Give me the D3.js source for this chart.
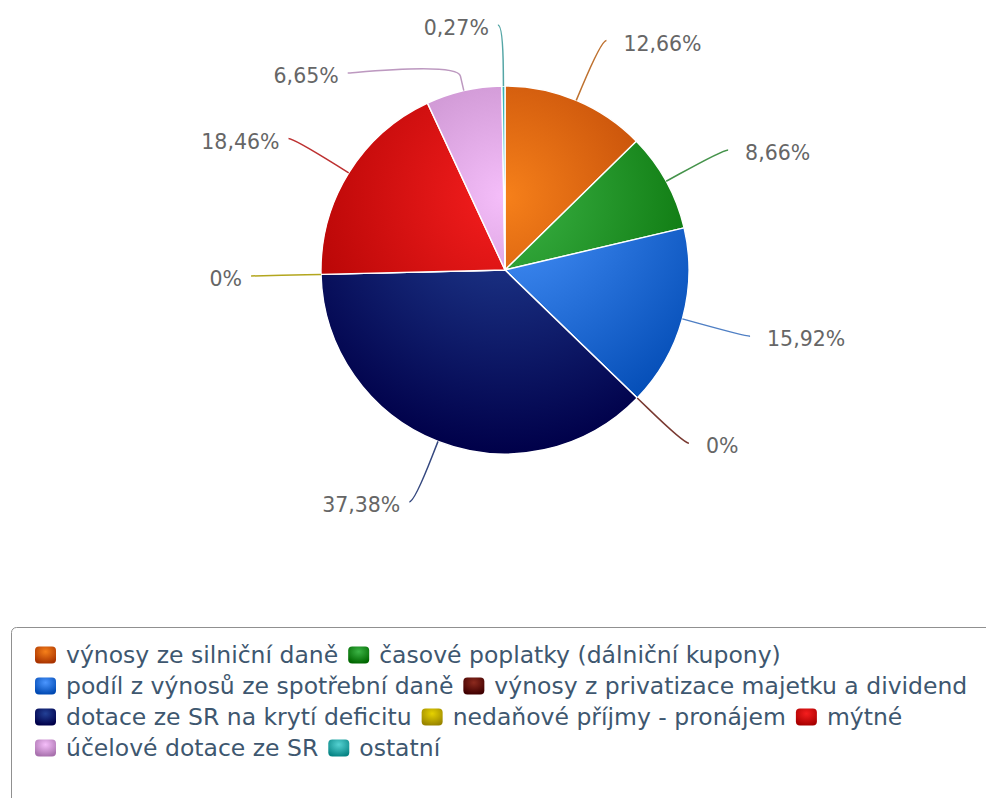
<!DOCTYPE html>
<html>
<head>
<meta charset="utf-8">
<script src="https://cdn.jsdelivr.net/npm/d3@7"></script>
<style>
  body { margin: 0; background: #fff; }
  svg { display: block; }
</style>
</head>
<body>
<svg id="chart" width="986" height="798"></svg>
<script>
// Revenue structure (share of total, %)
const categories = [
  "výnosy ze silniční daně",
  "časové poplatky (dálniční kupony)",
  "podíl z výnosů ze spotřební daně",
  "výnosy z privatizace majetku a dividend",
  "dotace ze SR na krytí deficitu",
  "nedaňové příjmy - pronájem",
  "mýtné",
  "účelové dotace ze SR",
  "ostatní"
];
const values = [12.66, 8.66, 15.92, 0, 37.38, 0, 18.46, 6.65, 0.27];
const colors = ["#F6801A", "#3CB446", "#4B96FF", "#8C2A1E", "#234196", "#E6D200", "#F51E1E", "#F5BEFA", "#55D2D2"];

const cx = 505, cy = 270, radius = 184;
const labelDistance = 65;          // label ring outside the pie
const breakOffset = 15;            // connector break just outside the pie
const labelTop = 25;               // highest label position
const labelGap = 48;               // minimum vertical gap between labels on one side
const font = "DejaVu Sans, Verdana, sans-serif";

const fmt = v => String(v).replace(".", ",") + "%";

// darken like Highcharts brighten(-0.3)
function darker(hex) {
  const c = d3.rgb(hex);
  const k = Math.round(0.3 * 255);
  return d3.rgb(Math.max(0, c.r - k), Math.max(0, c.g - k), Math.max(0, c.b - k)).formatHex();
}

const svg = d3.select("#chart");
const defs = svg.append("defs");

// radial gradients anchored to the whole pie (local coordinates of the pie group)
colors.forEach((col, i) => {
  const g = defs.append("radialGradient")
    .attr("id", "slice" + i)
    .attr("gradientUnits", "userSpaceOnUse")
    .attr("cx", 0).attr("cy", -radius + 0.3 * 2 * radius)
    .attr("r", 0.7 * 2 * radius);
  g.append("stop").attr("offset", 0).attr("stop-color", col);
  g.append("stop").attr("offset", 1).attr("stop-color", darker(col));

  const s = defs.append("radialGradient")
    .attr("id", "sym" + i)
    .attr("cx", 0.5).attr("cy", 0.3).attr("r", 0.7);
  s.append("stop").attr("offset", 0).attr("stop-color", col);
  s.append("stop").attr("offset", 1).attr("stop-color", darker(col));
});

const data = categories.map((name, i) => ({ name, value: values[i], color: colors[i], i }));

const pie = d3.pie().sort(null).value(d => d.value).startAngle(0).endAngle(2 * Math.PI);
const arcs = pie(data);
const arcGen = d3.arc().innerRadius(0).outerRadius(radius);

const pieG = svg.append("g").attr("transform", `translate(${cx},${cy})`);
pieG.selectAll("path.slice")
  .data(arcs)
  .join("path")
  .attr("class", "slice")
  .attr("d", arcGen)
  .attr("fill", d => `url(#slice${d.data.i})`)
  .attr("stroke", "#fff")
  .attr("stroke-width", 1.4)
  .attr("stroke-linejoin", "round");

// ---- data labels with soft connectors ----
const R = radius + labelDistance;
const labels = arcs.map(a => {
  const ang = (a.startAngle + a.endAngle) / 2;
  const sin = Math.sin(ang), cos = Math.cos(ang);
  return {
    d: a.data,
    left: ang > Math.PI,
    px: cx + radius * sin, py: cy - radius * cos,                                   // base on pie edge
    bx: cx + (radius + breakOffset) * sin, by: cy - (radius + breakOffset) * cos,  // break
    nx: cx + R * sin, ny: cy - R * cos                                              // natural label point
  };
});

[false, true].forEach(side => {
  const group = labels.filter(l => l.left === side).sort((a, b) => a.ny - b.ny);
  let prev = -Infinity;
  group.forEach(l => {
    let y = Math.max(l.ny, labelTop);
    const clamped = y !== l.ny;
    if (y < prev + labelGap) y = prev + labelGap;
    l.y = y;
    if (y === l.ny || (clamped && y === labelTop)) {
      l.x = l.nx;
    } else {
      const dy = Math.max(-R, Math.min(R, y - cy));
      l.x = cx + (side ? -1 : 1) * Math.sqrt(R * R - dy * dy);
    }
    prev = y;
  });
});

const lblG = svg.append("g");
labels.forEach(l => {
  const sx = l.x + (l.left ? -5 : 5);
  const path = `M${sx},${l.y}C${l.x},${l.y} ${2 * l.bx - l.px},${2 * l.by - l.py} ${l.bx},${l.by}L${l.px},${l.py}`;
  lblG.append("path")
    .attr("d", path)
    .attr("fill", "none")
    .attr("stroke", d3.interpolateRgb(l.d.color, "#555555")(0.35))
    .attr("stroke-width", 1.5);
  lblG.append("text")
    .attr("x", l.left ? l.x - 14 : l.x + 22)
    .attr("y", l.y + 3)
    .attr("dy", "0.35em")
    .attr("text-anchor", l.left ? "end" : "start")
    .attr("font-family", font)
    .attr("font-size", 20.5)
    .attr("fill", "#666666")
    .text(fmt(l.d.value));
});

// ---- legend ----
const legX = 11.5, legY = 627.5;
svg.append("rect")
  .attr("x", legX).attr("y", legY)
  .attr("width", 1000).attr("height", 250)
  .attr("rx", 5)
  .attr("fill", "none")
  .attr("stroke", "#909090")
  .attr("stroke-width", 1);

const itemStart = 35, rowH = 31, firstRow = 655, maxRight = 984;
const symW = 21, symH = 17, symPad = 10, itemGap = 10;
const legG = svg.append("g");
let ix = itemStart, row = 0;
data.forEach(d => {
  const g = legG.append("g");
  const t = g.append("text")
    .attr("font-family", font)
    .attr("font-size", 23.5)
    .attr("fill", "#3E576F")
    .attr("dy", "0.35em")
    .text(d.name);
  const tw = t.node().getComputedTextLength();
  const w = symW + symPad + tw;
  if (ix + w > maxRight && ix > itemStart) { row++; ix = itemStart; }
  const y = firstRow + row * rowH;
  g.append("rect")
    .attr("x", ix).attr("y", y - symH / 2)
    .attr("width", symW).attr("height", symH)
    .attr("rx", 4)
    .attr("fill", `url(#sym${d.i})`);
  t.attr("x", ix + symW + symPad).attr("y", y);
  ix += w + itemGap;
});
</script>
</body>
</html>
